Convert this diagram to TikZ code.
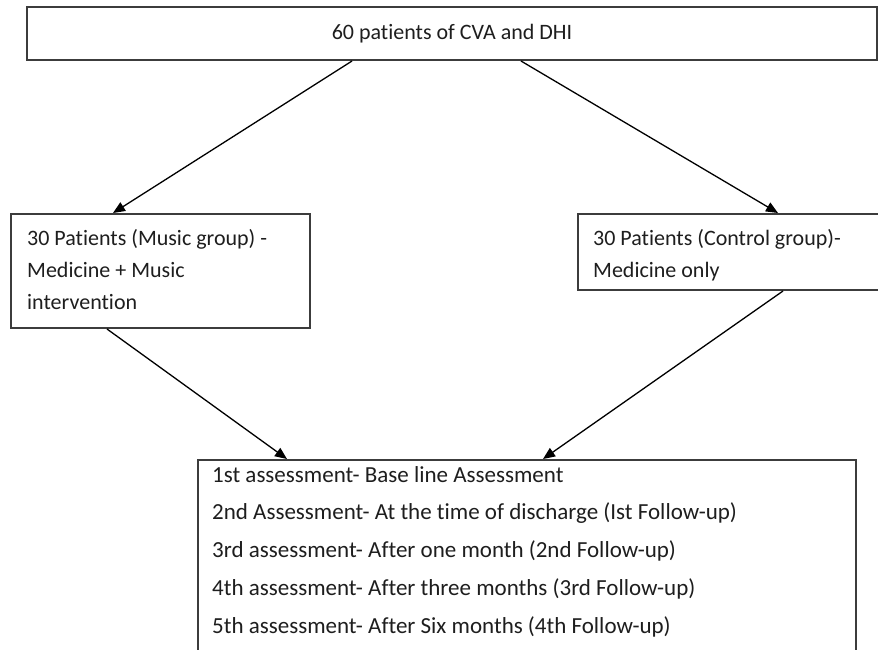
\documentclass[tikz,border=0pt]{standalone}
\usepackage{fontspec}
\setmainfont[Ligatures=NoCommon]{Carlito}
\usetikzlibrary{arrows.meta}
\definecolor{boxline}{HTML}{3C3C3C}
\definecolor{inktext}{HTML}{1E1E1E}
\tikzset{
  flowbox/.style={draw=boxline, line width=2pt, rectangle, inner sep=0pt, anchor=north west},
  boxtext/.style={text=inktext, inner sep=0pt, anchor=north west, align=left},
  flowarrow/.style={draw=black, line width=1.3pt, -{Triangle[length=12pt,width=10pt]}},
}
\begin{document}
\begin{tikzpicture}[x=1pt, y=-1pt]
  \useasboundingbox (0,0) rectangle (878,649);
  \clip (0,0) rectangle (878,649);
  \fill[white] (0,0) rectangle (878,649);

  % boxes
  \node[flowbox, minimum width=850pt, minimum height=53pt] (top) at (26,6) {};
  \node[text=inktext, font=\fontsize{22}{26}\selectfont] (toptext) at (top.center) {60 patients of CVA and DHI};

  \node[flowbox, minimum width=299pt, minimum height=114pt] (music) at (10,213) {};
  \node[boxtext, font=\fontsize{22}{32}\selectfont] (musictext) at (27,222.6)
    {\strut 30 Patients (Music group) -\\Medicine + Music\\intervention};

  \node[flowbox, minimum width=330pt, minimum height=76pt] (control) at (577,213) {};
  \node[boxtext, font=\fontsize{22}{32}\selectfont] (controltext) at (593,222.6)
    {\strut 30 Patients (Control group)-\\Medicine only};

  \node[flowbox, minimum width=658pt, minimum height=260pt] (assess) at (197,459) {};
  \node[boxtext, font=\fontsize{23}{37.7}\selectfont] (assesstext) at (212,455.6)
    {\strut 1st assessment- Base line Assessment\\
     2nd Assessment- At the time of discharge (Ist Follow-up)\\
     3rd assessment- After one month (2nd Follow-up)\\
     4th assessment- After three months (3rd Follow-up)\\
     5th assessment- After Six months (4th Follow-up)};

  % connectors
  \draw[flowarrow] ([xshift=326pt]top.south west) -- ([xshift=103pt]music.north west);
  \draw[flowarrow] ([xshift=495pt]top.south west) -- ([xshift=201pt]control.north west);
  \draw[flowarrow] ([xshift=97pt]music.south west) -- ([xshift=90pt]assess.north west);
  \draw[flowarrow] ([xshift=206pt]control.south west) -- ([xshift=346pt]assess.north west);
\end{tikzpicture}
\end{document}
